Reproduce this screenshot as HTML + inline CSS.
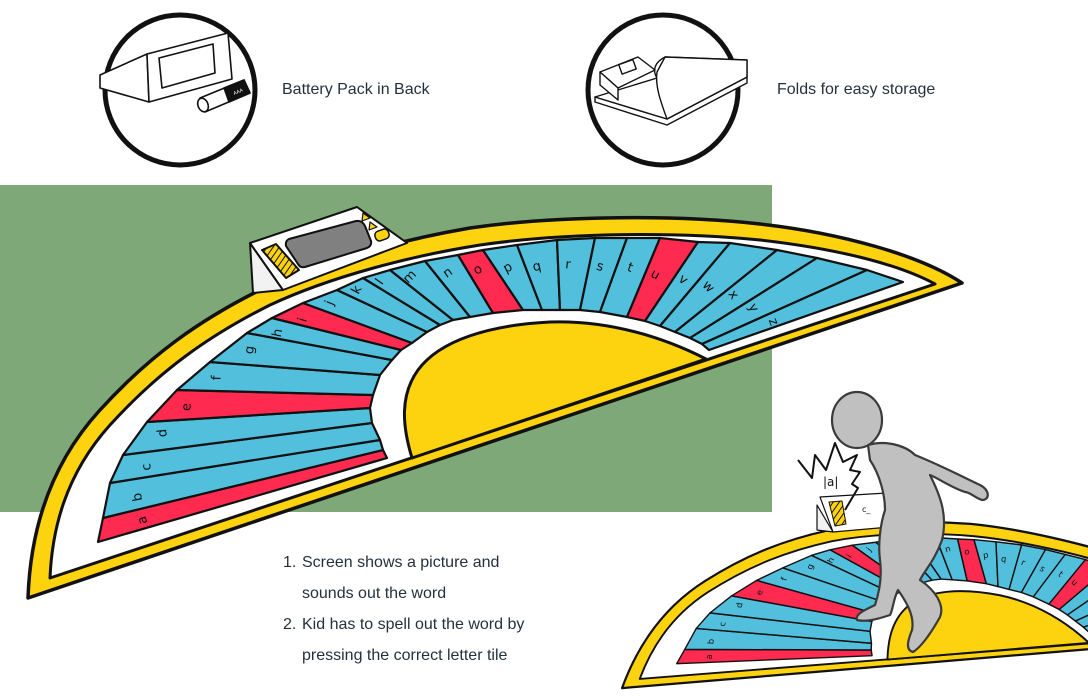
<!DOCTYPE html>
<html><head><meta charset="utf-8"><style>
html,body{margin:0;padding:0;background:#fff;width:1088px;height:700px;overflow:hidden;}
svg{display:block;}
.t{font-family:"Liberation Sans",sans-serif;font-size:16px;fill:#24313c;}
.L{font-family:"DejaVu Sans",sans-serif;font-size:13px;fill:#111;text-anchor:middle;dominant-baseline:central;}
.b{fill:#52bfdc;}
.r{fill:#ff2a4f;}
#tiles path{stroke:#111;stroke-width:2.2;stroke-linejoin:round;}
</style></head><body>
<svg width="1088" height="700" viewBox="0 0 1088 700" xmlns="http://www.w3.org/2000/svg">
<defs>
<pattern id="hatch" width="5" height="5" patternUnits="userSpaceOnUse" patternTransform="rotate(35)">
<rect width="5" height="5" fill="#fdd20f"/><line x1="0" y1="0" x2="0" y2="5" stroke="#111" stroke-width="2"/></pattern>
<g id="mat">
<path d="M28,598 C30,540 45,470 100,410 C150,355 200,320 260,290 C320,262 400,240 470,228 C560,215 680,215 760,224 C840,233 920,255 962,283 Z" fill="#fdd20f" stroke="#111" stroke-width="3.5" stroke-linejoin="round"/>
<path d="M50,578 C52,530 65,475 110,425 C160,370 210,335 270,305 C330,277 410,256 480,245 C570,232 680,232 760,240 C840,249 900,265 935,284 Z" fill="#fff" stroke="#111" stroke-width="3" stroke-linejoin="round"/>
<g id="tiles">
<path class="r" d="M98,542 L103,518 L383,450 L387,458 Z"/>
<path class="b" d="M103,518 L110,483 L380,440 L383,450 Z"/>
<path class="b" d="M110,483 L123,455 L372,423 L380,440 Z"/>
<path class="b" d="M123,455 L147,422 L370,408 L372,423 Z"/>
<path class="r" d="M147,422 L177,390 L373,395 L370,408 Z"/>
<path class="b" d="M177,390 L210,362 L380,375 L373,395 Z"/>
<path class="b" d="M210,362 L247,333 L392,360 L380,375 Z"/>
<path class="b" d="M247,333 L272,318 L401,350 L392,360 Z"/>
<path class="r" d="M272,318 L303,303 L412,343 L401,350 Z"/>
<path class="b" d="M303,303 L337,290 L427,332 L412,343 Z"/>
<path class="b" d="M337,290 L363,278 L440,325 L427,332 Z"/>
<path class="b" d="M363,278 L390,270 L453,320 L440,325 Z"/>
<path class="b" d="M390,270 L425,261 L470,317 L453,320 Z"/>
<path class="b" d="M425,261 L458,255 L493,313 L470,317 Z"/>
<path class="r" d="M458,255 L483,250 L523,310 L493,313 Z"/>
<path class="b" d="M483,250 L517,245 L542,310 L523,310 Z"/>
<path class="b" d="M517,245 L557,240 L560,310 L542,310 Z"/>
<path class="b" d="M557,240 L595,238 L580,310 L560,310 Z"/>
<path class="b" d="M595,238 L627,238 L600,312 L580,310 Z"/>
<path class="b" d="M627,238 L660,238 L627,317 L600,312 Z"/>
<path class="r" d="M660,238 L698,242 L645,321 L627,317 Z"/>
<path class="b" d="M698,242 L730,243 L660,326 L645,321 Z"/>
<path class="b" d="M730,243 L777,250 L675,332 L660,326 Z"/>
<path class="b" d="M777,250 L817,258 L690,338 L675,332 Z"/>
<path class="b" d="M817,258 L867,270 L702,344 L690,338 Z"/>
<path class="b" d="M867,270 L903,282 L709,350 L702,344 Z"/>
</g>
<path d="M412,458 C402,425 400,395 418,370 C440,340 490,325 550,322 C610,320 665,338 706,359 Z" fill="#fdd20f" stroke="#111" stroke-width="3" stroke-linejoin="round"/>
<g>
<text class="L" x="143" y="520" transform="rotate(-105 143 520)">a</text>
<text class="L" x="138" y="497" transform="rotate(-101 138 497)">b</text>
<text class="L" x="147" y="467" transform="rotate(-98 147 467)">c</text>
<text class="L" x="163" y="433" transform="rotate(-96 163 433)">d</text>
<text class="L" x="187" y="407" transform="rotate(-91 187 407)">e</text>
<text class="L" x="217" y="378" transform="rotate(-87 217 378)">f</text>
<text class="L" x="250" y="350" transform="rotate(-83 250 350)">g</text>
<text class="L" x="278" y="333" transform="rotate(-78 278 333)">h</text>
<text class="L" x="303" y="320" transform="rotate(-73 303 320)">i</text>
<text class="L" x="330" y="303" transform="rotate(-68 330 303)">j</text>
<text class="L" x="357" y="290" transform="rotate(-62 357 290)">k</text>
<text class="L" x="380" y="282" transform="rotate(-55 380 282)">l</text>
<text class="L" x="410" y="277" transform="rotate(-45 410 277)">m</text>
<text class="L" x="448" y="273" transform="rotate(-35 448 273)">n</text>
<text class="L" x="478" y="270" transform="rotate(-32 478 270)">o</text>
<text class="L" x="508" y="268" transform="rotate(-27 508 268)">p</text>
<text class="L" x="537" y="267" transform="rotate(-12 537 267)">q</text>
<text class="L" x="568" y="265" transform="rotate(5 568 265)">r</text>
<text class="L" x="600" y="267" transform="rotate(16 600 267)">s</text>
<text class="L" x="630" y="268" transform="rotate(21 630 268)">t</text>
<text class="L" x="655" y="275" transform="rotate(29 655 275)">u</text>
<text class="L" x="683" y="280" transform="rotate(37 683 280)">v</text>
<text class="L" x="708" y="287" transform="rotate(46 708 287)">w</text>
<text class="L" x="733" y="295" transform="rotate(55 733 295)">x</text>
<text class="L" x="753" y="308" transform="rotate(62 753 308)">y</text>
<text class="L" x="773" y="322" transform="rotate(68 773 322)">z</text>
</g>
</g>
</defs>

<!-- top icons -->
<circle cx="180" cy="90" r="75" fill="#fff" stroke="#111" stroke-width="5"/>
<g fill="#fff" stroke="#111" stroke-width="1.6" stroke-linejoin="round">
<path d="M147,54 L100,75 L100,88 L149,102 Z"/>
<path d="M147,54 L228,33 L232,79 L149,102 Z"/>
<path d="M159,58 L213,44 L215,73 L162,88 Z"/>
<path d="M200,98 L244,80 L250,93 L205,112 Z" fill="#fff"/>
<path d="M224,88 L244,80 L250,93 L229,102 Z" fill="#111"/>
<ellipse cx="203" cy="105" rx="5" ry="7" transform="rotate(-22 203 105)"/>
</g>
<text x="234" y="95" font-size="5" fill="#fff" font-family="Liberation Sans" transform="rotate(-22 234 95)">AAA</text>
<text class="t" x="282" y="94">Battery Pack in Back</text>

<circle cx="663" cy="90" r="75" fill="#fff" stroke="#111" stroke-width="5"/>
<g fill="#fff" stroke="#111" stroke-width="1.4" stroke-linejoin="round">
<path d="M595,102 L667,125 L747,83 L747,77 L667,119 L595,97 Z"/>
<path d="M595,97 L667,119 L747,77 L747,60 L665,57 C655,62 652,70 657,78 Z"/>
<path d="M665,57 L747,60 L747,77 L667,119 C660,100 655,85 657,72 Z"/>
<path d="M600,72 L638,57 L655,70 L618,88 Z"/>
<path d="M600,72 L600,85 L618,100 L618,88 Z"/>
<rect x="620" y="62" width="15" height="10" transform="rotate(-20 627 67)"/>
</g>
<text class="t" x="777" y="94">Folds for easy storage</text>

<rect x="0" y="185" width="772" height="327" fill="#7ea877"/>
<use href="#mat"/>

<!-- main device -->
<g stroke="#111" stroke-width="2" stroke-linejoin="round">
<path d="M250,243 L253,293 L283,290 Z" fill="#f2f2f2"/>
<path d="M250,243 L357,207 L407,243 L283,290 Z" fill="#fff"/>
<path d="M289,239 L356,221 Q362,220 365,226 L371,241 Q372,246 367,248 L305,267 Q300,268 298,264 L286,246 Q285,241 289,239 Z" fill="#808080"/>
<path d="M262,250 L276,244 L299,270 L286,278 Z" fill="url(#hatch)"/>
<path d="M363,213 L370,218 L362,221 Z" fill="#fdd20f" stroke-width="1.2"/>
<path d="M370,222 L377,227 L369,230 Z" fill="#fdd20f" stroke-width="1.2"/>
<rect x="375" y="230" width="14" height="10" rx="4" fill="#fdd20f" stroke-width="1.5" transform="rotate(-20 382 235)"/>
</g>

<use href="#mat" transform="matrix(0.616,0.155,-0.206,0.629,728,307.6)"/>

<!-- small device + bubble -->
<g stroke="#111" stroke-linejoin="round">
<path d="M817,505 L817,530 L833,532 Z" fill="#f2f2f2" stroke-width="1.2"/>
<path d="M820,497 L887,493 L890,527 L833,532 Z" fill="#fff" stroke-width="1.2"/>
<path d="M829,502 L842,501 L846,524 L835,526 Z" fill="url(#hatch)" stroke-width="1"/>
<polyline points="798,460 812,478 815,455 826,470 835,443 843,462 857,455 850,470 860,472 852,484 858,488 845,510" fill="none" stroke-width="2"/>
</g>
<text x="823" y="486" font-family="DejaVu Sans" font-size="12" fill="#111">|a|</text>
<text x="862" y="512" font-family="DejaVu Sans" font-size="8" fill="#111">c_</text>

<!-- child -->
<g fill="#c0c0c0" stroke="#3a3a3a" stroke-width="2.2" stroke-linejoin="round">
<path d="M868,445 C885,440 905,445 915,455 C940,465 965,478 980,485 C990,490 990,500 982,500 C975,498 970,492 965,492 C950,487 938,478 930,475 C940,495 948,515 942,540 C935,560 925,570 920,580 C935,590 945,605 940,617 C930,635 920,648 913,652 C905,650 908,640 912,630 C915,615 905,600 898,590 C893,600 893,610 890,615 C875,620 865,622 857,620 C855,614 865,610 875,605 C880,590 882,575 880,560 C878,545 880,525 885,510 C885,495 880,475 870,460 Z"/>
<ellipse cx="857" cy="420" rx="25" ry="28"/>
</g>

<!-- list -->
<text class="t" x="283" y="567">1.</text><text class="t" x="302" y="567">Screen shows a picture and</text>
<text class="t" x="302" y="598">sounds out the word</text>
<text class="t" x="283" y="629">2.</text><text class="t" x="302" y="629">Kid has to spell out the word by</text>
<text class="t" x="302" y="660">pressing the correct letter tile</text>
</svg>
</body></html>
